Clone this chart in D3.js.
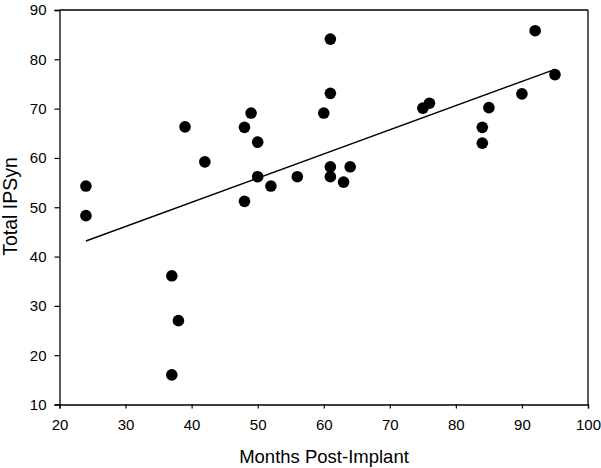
<!DOCTYPE html>
<html><head><meta charset="utf-8">
<script src="https://cdn.jsdelivr.net/npm/d3@7"></script>
<style>body{margin:0;background:#fff}svg{display:block}</style>
</head><body>
<svg id="c" width="601" height="468"></svg>
<script>
const months = [24,24,37,38,37,39,42,48,49,50,48,50,52,56,60,61,61,61,61,63,64,75,76,84,84,85,90,92,95];
const ipsyn  = [54.3,48.3,36.1,27,16,66.3,59.2,66.2,69.1,63.2,51.2,56.2,54.3,56.2,69.1,84.1,73.1,58.2,56.2,55.1,58.2,70.1,71.1,66.2,63,70.2,73,85.8,76.9];
const xTicks = [20,30,40,50,60,70,80,90,100];
const yTicks = [10,20,30,40,50,60,70,80,90];
const fitRange = [24,95];
const fitIntercept = 31.4, fitSlope = 0.49;

const svg = d3.select("#c");
const m = {l:59.5, r:13, t:10, b:63.5};
const W = 601, H = 468;
const x = d3.scaleLinear().domain([20,100]).range([m.l, W-m.r]);
const y = d3.scaleLinear().domain([10,90]).range([H-m.b, m.t]);
const font = "'Liberation Sans', Arial, sans-serif";

// frame top/right
svg.append("line").attr("x1",x(20)).attr("x2",x(100)).attr("y1",y(90)).attr("y2",y(90)).attr("stroke","#000").attr("stroke-width",1.3);
svg.append("line").attr("x1",x(100)).attr("x2",x(100)).attr("y1",y(90)).attr("y2",y(10)).attr("stroke","#000").attr("stroke-width",1.3);

const xa = svg.append("g").attr("transform",`translate(0,${y(10)})`)
  .call(d3.axisBottom(x).tickValues(xTicks).tickSize(4).tickPadding(11));
const ya = svg.append("g").attr("transform",`translate(${x(20)},0)`)
  .call(d3.axisLeft(y).tickValues(yTicks).tickSize(5).tickPadding(8));
[xa,ya].forEach(g=>{
  g.select(".domain").attr("stroke","#000").attr("stroke-width",1.3);
  g.selectAll(".tick line").attr("stroke","#000").attr("stroke-width",1.2);
  g.selectAll("text").attr("font-family",font).attr("font-size",15).attr("fill","#000");
});

// fit line
svg.append("line")
  .attr("x1",x(fitRange[0])).attr("y1",y(fitIntercept+fitSlope*fitRange[0]))
  .attr("x2",x(fitRange[1])).attr("y2",y(fitIntercept+fitSlope*fitRange[1]))
  .attr("stroke","#000").attr("stroke-width",1.4);

svg.append("g").selectAll("circle").data(months.map((d,i)=>[d,ipsyn[i]])).join("circle")
  .attr("cx",d=>x(d[0])).attr("cy",d=>y(d[1])).attr("r",5.8).attr("fill","#000");

svg.append("text").attr("x",324).attr("y",463).attr("text-anchor","middle")
  .attr("font-family",font).attr("font-size",18.5).text("Months Post-Implant");
svg.append("text").attr("transform",`translate(17,206.5) rotate(-90)`).attr("text-anchor","middle")
  .attr("font-family",font).attr("font-size",19.5).text("Total IPSyn");
</script>
</body></html>
